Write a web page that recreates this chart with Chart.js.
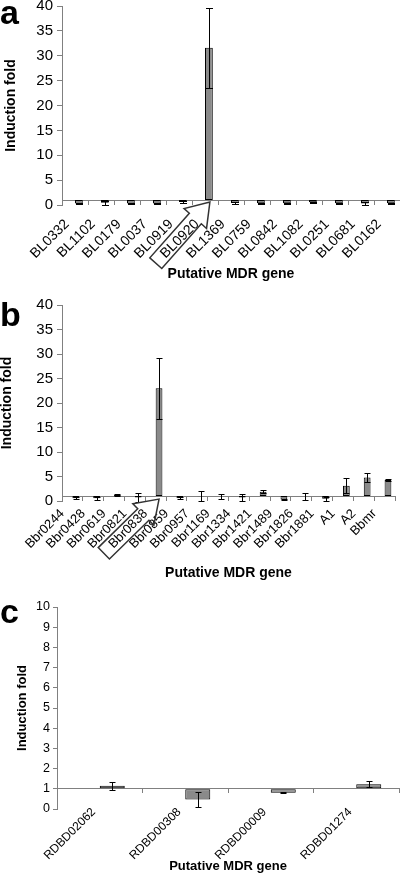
<!DOCTYPE html>
<html><head><meta charset="utf-8">
<script src="https://cdn.jsdelivr.net/npm/chart.js@4/dist/chart.umd.min.js"></script>
<style>
html,body{margin:0;padding:0;background:#fff;}
body{width:400px;height:873px;position:relative;overflow:hidden;font-family:'Liberation Sans',Arial,sans-serif;}
.panel{position:absolute;left:0;width:400px;}
.letter{position:absolute;left:0;font-weight:bold;font-size:34px;line-height:1;color:#000;}
canvas{display:block;}
</style></head><body>
<div class="panel" style="top:0;height:290px"><canvas id="ca" width="400" height="290"></canvas></div>
<div class="panel" style="top:290px;height:295px"><canvas id="cb" width="400" height="295"></canvas></div>
<div class="panel" style="top:585px;height:288px"><canvas id="cc" width="400" height="288"></canvas></div>
<div class="letter" style="top:-5px">a</div>
<div class="letter" style="top:297px">b</div>
<div class="letter" style="top:594px">c</div>
<script>
// ---- data ----
const genesA = ['BL0332','BL1102','BL0179','BL0037','BL0919','BL0920','BL1369','BL0759','BL0842','BL1082','BL0251','BL0681','BL0162'];
const foldA  = [0.3, 0.45, 0.3, 0.3, 0.6, 31.6, 0.4, 0.35, 0.35, 0.55, 0.35, 0.3, 0.35];
const errA   = [0.15, 0.4, 0.1, 0.1, 0.2, 8.0, 0.15, 0.1, 0.1, 0.1, 0.1, 0.25, 0.15];

const genesB = ['Bbr0244','Bbr0428','Bbr0619','Bbr0821','Bbr0838','Bbr0859','Bbr0957','Bbr1169','Bbr1334','Bbr1421','Bbr1489','Bbr1826','Bbr1881','A1','A2','Bbmr'];
const foldB  = [0.55, 0.55, 1.2, 0.7, 23.0, 0.55, 0.95, 1.0, 0.7, 1.9, 0.3, 1.0, 0.45, 3.1, 4.8, 4.3];
const errB   = [0.2, 0.3, 0.15, 0.9, 6.2, 0.2, 1.0, 0.5, 0.8, 0.3, 0.15, 0.7, 0.4, 1.5, 1.0, 0.25];

const genesC = ['RDBD02062','RDBD00308','RDBD00009','RDBD01274'];
const foldC  = [1.15, 0.47, 0.8, 1.22];
const errC   = [0.2, 0.39, 0.02, 0.15];

const yTicksAB = [0, 5, 10, 15, 20, 25, 30, 35, 40];
const yTicksC  = [0, 1, 2, 3, 4, 5, 6, 7, 8, 9, 10];
const baselineFold = 1;   // bars are drawn from fold = 1 (no induction)
const highlightA = 'BL0920';
const highlightB = 'Bbr0838';

// ---- rendering ----
const FAMILY = "'Liberation Sans', Arial, sans-serif";
Chart.defaults.font.family = FAMILY;
Chart.defaults.color = '#000';

const errorBars = {
  id: 'errorBars',
  afterDatasetsDraw(chart, args, opts) {
    const meta = chart.getDatasetMeta(1);
    const ys = chart.scales.y;
    const ctx = chart.ctx;
    const vals = chart.data.datasets[1].data;
    ctx.save();
    ctx.strokeStyle = '#000';
    ctx.lineWidth = 1;
    meta.data.forEach((bar, i) => {
      const v = vals[i], e = opts.errors[i];
      if (v == null || !e) return;
      const x = Math.round(bar.x) + 0.5;
      const yt = Math.round(ys.getPixelForValue(v + e)) + 0.5;
      const yb = Math.round(ys.getPixelForValue(v - e)) + 0.5;
      ctx.beginPath();
      ctx.moveTo(x, yt); ctx.lineTo(x, yb);
      ctx.moveTo(x - opts.cap, yt); ctx.lineTo(x + opts.cap, yt);
      ctx.moveTo(x - opts.cap, yb); ctx.lineTo(x + opts.cap, yb);
      ctx.stroke();
    });
    ctx.restore();
  }
};

// outlined arrow that encloses the highlighted gene's tick label and points at its bar
const pointer = {
  id: 'pointer',
  afterDraw(chart, args, opts) {
    if (!opts || opts.index == null || opts.index < 0) return;
    const i = opts.index;
    const x2 = chart.scales.x2;
    const t = x2.options.ticks;
    const ctx = chart.ctx;
    ctx.save();
    ctx.font = opts.fontSize + 'px ' + FAMILY;
    const len = ctx.measureText(chart.data.labels[i]).width;
    const s = Math.SQRT1_2;
    const rx = x2.getPixelForTick(i) + (t.labelOffset || 0);
    const ry = x2.top + t.padding + opts.fontSize * 1.2 / 2 * s;
    const fx = rx - (len + opts.tail) * s;
    const fy = ry + (len + opts.tail) * s;
    const bar = chart.getDatasetMeta(1).data[i];
    const tx = bar.x + opts.dx;
    const ty = chart.scales.y.getPixelForValue(baselineFold) + opts.dy;
    const ang = Math.atan2(fy - ty, fx - tx);
    const L = Math.hypot(fx - tx, fy - ty);
    ctx.translate(tx, ty);
    ctx.rotate(ang);
    const h = opts.head, hh = opts.headHalf, sh = opts.shaftHalf;
    ctx.beginPath();
    ctx.moveTo(0, 0);
    ctx.lineTo(h, -hh);
    ctx.lineTo(h, -sh);
    ctx.lineTo(L, -sh);
    ctx.lineTo(L, sh);
    ctx.lineTo(h, sh);
    ctx.lineTo(h, hh);
    ctx.closePath();
    ctx.strokeStyle = '#333';
    ctx.lineWidth = 1.5;
    ctx.stroke();
    ctx.restore();
  }
};

function makeChart(id, cfg) {
  const yTicks = cfg.yTicks;
  return new Chart(document.getElementById(id), {
    type: 'bar',
    data: {
      labels: cfg.labels,
      datasets: [
        { label: 'reference', data: cfg.labels.map(() => null) },
        { label: 'Induction fold', data: cfg.values, base: baselineFold,
          backgroundColor: '#8a8a8a', borderColor: '#000', borderWidth: 1, borderSkipped: false }
      ]
    },
    options: {
      responsive: false,
      animation: false,
      events: [],
      layout: { padding: cfg.padding },
      datasets: { bar: { categoryPercentage: cfg.catPct, barPercentage: 1 } },
      plugins: {
        legend: { display: false },
        tooltip: { enabled: false },
        errorBars: { errors: cfg.errors, cap: cfg.cap },
        pointer: cfg.pointer || { index: -1 }
      },
      scales: {
        x: {
          type: 'category', position: { y: baselineFold }, offset: true,
          grid: { display: true, drawOnChartArea: false, drawTicks: true, tickLength: 4, color: '#808080', offset: true },
          border: { display: true, color: '#808080', width: 1 },
          ticks: { display: false },
          afterFit(s) { s.paddingLeft = 0; s.paddingRight = 0; }
        },
        x2: {
          type: 'category', position: 'bottom', offset: true,
          grid: { display: false, drawTicks: false },
          border: { display: false },
          ticks: { autoSkip: false, minRotation: 45, maxRotation: 45, font: { size: cfg.xFont },
                   padding: cfg.xPad, labelOffset: cfg.xShift, color: '#000' },
          title: { display: true, text: 'Putative MDR gene', color: '#000',
                   font: { size: cfg.titleFont, weight: 'bold', lineHeight: 1 }, padding: { top: 0, bottom: cfg.xTitlePad } },
          afterFit(s) {
            s.height = cfg.x2Height; s.paddingLeft = 0; s.paddingRight = 0;
            s._computeLabelArea = () => undefined;   // let labels start right at the plot's bottom edge
          }
        },
        y: {
          min: yTicks[0], max: yTicks[yTicks.length - 1],
          ticks: { stepSize: yTicks[1] - yTicks[0], font: { size: cfg.yFont }, padding: cfg.yPad, color: '#000' },
          grid: { drawOnChartArea: false, tickLength: cfg.yTickLen, color: '#808080' },
          border: { color: '#808080', width: 1 },
          title: { display: true, text: 'Induction fold', color: '#000',
                   font: { size: cfg.titleFont, weight: 'bold', lineHeight: 1 }, padding: { top: cfg.yTitlePad, bottom: 0 } },
          afterFit(s) { s.width = cfg.yWidth; s.paddingTop = 0; s.paddingBottom = 0; }
        }
      }
    },
    plugins: [errorBars, pointer]
  });
}

makeChart('ca', {
  labels: genesA, values: foldA, errors: errA, yTicks: yTicksAB,
  padding: { top: 6, left: 0, right: 0, bottom: 0 },
  yWidth: 62, x2Height: 85, catPct: 0.6, cap: 3.5,
  xFont: 14, yFont: 15, titleFont: 14, xPad: 11, xShift: -8, yPad: 4, yTickLen: 5,
  xTitlePad: 9, yTitlePad: 4,
  pointer: { index: genesA.indexOf(highlightA), fontSize: 14, tail: 10,
             dx: 1, dy: 2, head: 22, headHalf: 15, shaftHalf: 8 }
});

makeChart('cb', {
  labels: genesB, values: foldB, errors: errB, yTicks: yTicksAB,
  padding: { top: 15, left: 0, right: 5, bottom: 0 },
  yWidth: 62, x2Height: 84, catPct: 0.65, cap: 3,
  xFont: 13, yFont: 15, titleFont: 14, xPad: 5, xShift: -10, yPad: 4, yTickLen: 5,
  xTitlePad: 5, yTitlePad: 0,
  pointer: { index: genesB.indexOf(highlightB), fontSize: 13, tail: 10,
             dx: 0, dy: 3, head: 22, headHalf: 15, shaftHalf: 8 }
});

makeChart('cc', {
  labels: genesC, values: foldC, errors: errC, yTicks: yTicksC,
  padding: { top: 22, left: 0, right: 1, bottom: 0 },
  yWidth: 57, x2Height: 64, catPct: 0.585, cap: 3,
  xFont: 12, yFont: 12.5, titleFont: 13, xPad: -4, xShift: -6, yPad: 3, yTickLen: 4,
  xTitlePad: 0.5, yTitlePad: 16
});
</script>
</body></html>
